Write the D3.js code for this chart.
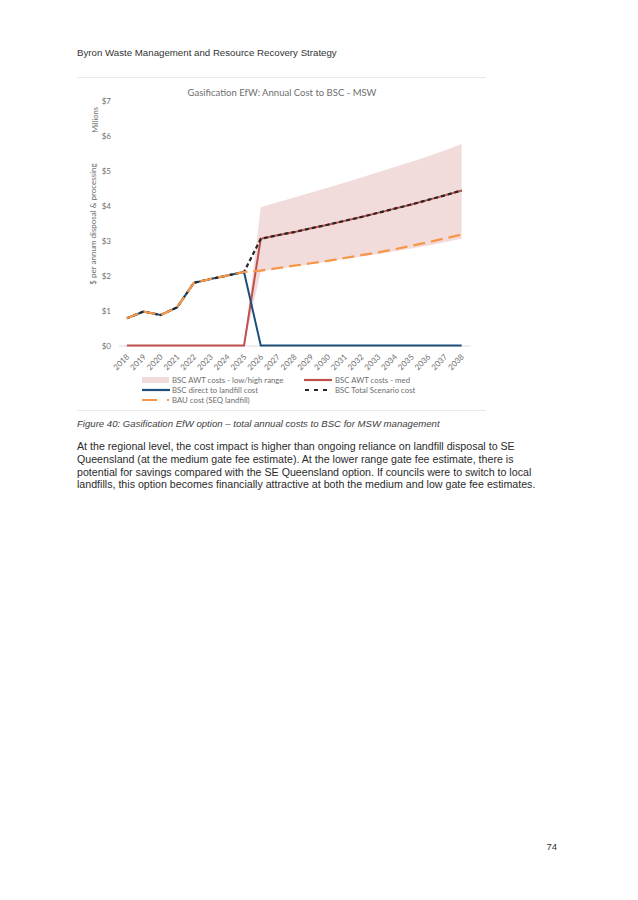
<!DOCTYPE html>
<html>
<head>
<meta charset="utf-8">
<script src="https://cdn.jsdelivr.net/npm/d3@7"></script>
<style>
  html, body { margin: 0; padding: 0; background: #fff; }
  svg { display: block; }
</style>
</head>
<body>
<svg id="page" width="638" height="900"></svg>
<script>
// ---------- data ----------
const years = ["2018","2019","2020","2021","2022","2023","2024","2025","2026","2027","2028","2029","2030","2031","2032","2033","2034","2035","2036","2037","2038"];
const awtLow  = [0,0,0,0,0,0,0,0, 2.12,2.19,2.26,2.33,2.40,2.47,2.54,2.61,2.69,2.77,2.86,2.95,3.05];
const awtHigh = [0,0,0,0,0,0,0,0, 3.95,4.09,4.23,4.37,4.51,4.65,4.80,4.95,5.10,5.25,5.41,5.58,5.76];
const awtMed  = [0,0,0,0,0,0,0,0, 3.05,3.15,3.24,3.35,3.45,3.56,3.67,3.79,3.91,4.03,4.16,4.29,4.43];
const landfill = [0.78,0.97,0.87,1.09,1.79,1.90,2.00,2.10, 0,0,0,0,0,0,0,0,0,0,0,0,0];
const totalScenario = [0.78,0.97,0.87,1.09,1.79,1.90,2.00,2.10, 3.05,3.15,3.24,3.35,3.45,3.56,3.67,3.79,3.91,4.03,4.16,4.29,4.43];
const bau = [0.78,0.97,0.87,1.09,1.79,1.90,2.00,2.10, 2.14,2.21,2.28,2.35,2.42,2.50,2.58,2.66,2.75,2.85,2.95,3.06,3.17];
const yTicks = [0,1,2,3,4,5,6,7];
const legendItems = [
  {key:"band",  label:"BSC AWT costs - low/high range"},
  {key:"med",   label:"BSC AWT costs - med"},
  {key:"lf",    label:"BSC direct to landfill cost"},
  {key:"total", label:"BSC Total Scenario cost"},
  {key:"bau",   label:"BAU cost (SEQ landfill)"}
];
const headerText = "Byron Waste Management and Resource Recovery Strategy";
const chartTitle = "Gasification EfW: Annual Cost to BSC  - MSW";
const captionText = "Figure 40: Gasification EfW option \u2013 total annual costs to BSC for MSW management";
const bodyLines = [
  "At the regional level, the cost impact is higher than ongoing reliance on landfill disposal to SE",
  "Queensland (at the medium gate fee estimate). At the lower range gate fee estimate, there is",
  "potential for savings compared with the SE Queensland option. If councils were to switch to local",
  "landfills, this option becomes financially attractive at both the medium and low gate fee estimates."
];
const pageNumber = "74";

// ---------- styles ----------
const C = {
  band: "#F2DCDB", med: "#C0504D", lf: "#1F4E79", total: "#262626", bau: "#F79646",
  axis: "#D9D9D9", text: "#6E6E6E"
};
const chartFont = "Lato, 'Open Sans', sans-serif";
const pageFont = "'Liberation Sans', Arial, sans-serif";

const svg = d3.select("#page");
svg.append("rect").attr("width",638).attr("height",900).attr("fill","#fff");

// page header
svg.append("text").attr("x",77).attr("y",56).attr("font-family",pageFont)
  .attr("font-size",9.7).attr("fill","#333").text(headerText);

// separators
svg.append("line").attr("x1",77).attr("x2",486).attr("y1",77.5).attr("y2",77.5).attr("stroke","#E3E3E3").attr("stroke-width",0.8);
svg.append("line").attr("x1",77).attr("x2",486).attr("y1",410.5).attr("y2",410.5).attr("stroke","#E3E3E3").attr("stroke-width",0.8);

// chart title
svg.append("text").attr("x",282).attr("y",95.5).attr("text-anchor","middle")
  .attr("font-family",chartFont).attr("font-size",9.5).attr("fill",C.text).text(chartTitle);

// scales
const x = d3.scaleBand().domain(years).range([118.5, 470]);
const cx = d => x(d) + x.bandwidth()/2;
const y = d3.scaleLinear().domain([0,7]).range([345.5, 100.5]);

// y tick labels
const yAxis = d3.axisLeft(y).tickValues(yTicks).tickSize(0).tickPadding(0).tickFormat(d => "$" + d);
const gy = svg.append("g").attr("transform","translate(111,0)").call(yAxis);
gy.select(".domain").remove();
gy.selectAll("text").attr("font-family",chartFont).attr("font-size",8).attr("fill",C.text);

// y axis titles
svg.append("text").attr("transform","translate(98,120) rotate(-90)").attr("text-anchor","middle")
  .attr("font-family",chartFont).attr("font-size",7.5).attr("fill",C.text).text("Millions");
svg.append("text").attr("transform","translate(95.5,224) rotate(-90)").attr("text-anchor","middle")
  .attr("font-family",chartFont).attr("font-size",8).attr("fill",C.text).text("$ per annum disposal & processing");

// x axis
const xAxis = d3.axisBottom(x).tickSize(0).tickPadding(0);
const gx = svg.append("g").attr("transform",`translate(0,${y(0)})`).call(xAxis);
gx.select(".domain").attr("stroke",C.axis).attr("stroke-width",1);
gx.selectAll("text").attr("font-family",chartFont).attr("font-size",8).attr("fill",C.text)
  .attr("text-anchor","end").attr("dy",null).attr("y",null)
  .attr("transform","translate(3,12) rotate(-45)");

// series
const idx = d3.range(years.length);
const area = d3.area().x(i => cx(years[i])).y0(i => y(awtLow[i])).y1(i => y(awtHigh[i]));
const line = arr => d3.line().x(i => cx(years[i])).y(i => y(arr[i]));
const plot = svg.append("g");
plot.append("path").datum(idx).attr("d",area).attr("fill",C.band);
plot.append("path").datum(idx).attr("d",line(awtMed)).attr("fill","none").attr("stroke",C.med).attr("stroke-width",2);
plot.append("path").datum(idx).attr("d",line(landfill)).attr("fill","none").attr("stroke",C.lf).attr("stroke-width",2);
plot.append("path").datum(idx).attr("d",line(totalScenario)).attr("fill","none").attr("stroke",C.total)
  .attr("stroke-width",2.2).attr("stroke-dasharray","4,3");
plot.append("path").datum(idx).attr("d",line(bau)).attr("fill","none").attr("stroke",C.bau)
  .attr("stroke-width",2.2).attr("stroke-dasharray","12,6");

// legend
const legPos = [
  {sx:142, tx:172, y:380},
  {sx:304, tx:335, y:380},
  {sx:142, tx:172, y:390},
  {sx:304, tx:335, y:390},
  {sx:142, tx:172, y:400}
];
const lg = svg.append("g");
legendItems.forEach((it,i) => {
  const p = legPos[i];
  const g = lg.append("g");
  if (it.key === "band") {
    g.append("rect").attr("x",p.sx).attr("y",p.y-3).attr("width",27).attr("height",6).attr("fill",C.band);
  } else {
    const ln = g.append("line").attr("x1",p.sx).attr("x2",p.sx+28).attr("y1",p.y).attr("y2",p.y)
      .attr("stroke",C[it.key]).attr("stroke-width",2.2);
    if (it.key === "total") ln.attr("stroke-dasharray","4,5").attr("x1",p.sx+1);
    if (it.key === "bau") ln.attr("stroke-dasharray","15,10").attr("x2",p.sx+27);
  }
  g.append("text").attr("x",p.tx).attr("y",p.y+2.8).attr("font-family",chartFont)
    .attr("font-size",7.8).attr("fill",C.text).text(it.label);
});

// caption
svg.append("text").attr("x",77).attr("y",427).attr("font-family",pageFont).attr("font-style","italic")
  .attr("font-size",9.6).attr("fill","#404040").text(captionText);

// body text
svg.append("g").selectAll("text").data(bodyLines).join("text")
  .attr("x",77).attr("y",(d,i) => 450 + i*12.8)
  .attr("font-family",pageFont).attr("font-size",10.65).attr("fill","#2b2b2b").text(d => d);

// page number
svg.append("text").attr("x",557).attr("y",850).attr("text-anchor","end")
  .attr("font-family",pageFont).attr("font-size",9.5).attr("fill","#333").text(pageNumber);
</script>
</body>
</html>
